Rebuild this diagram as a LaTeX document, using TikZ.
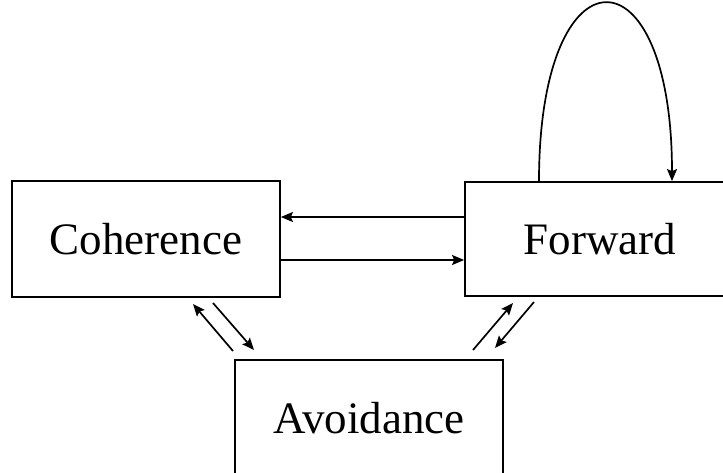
\documentclass[tikz,border=0pt]{standalone}
\usepackage{fontspec}
\setmainfont{Liberation Serif}
\usetikzlibrary{arrows.meta,calc}
\begin{document}
\begin{tikzpicture}[x=1pt,y=-1pt,
  stateblock/.style={draw,line width=1.8pt,minimum width=268pt,minimum height=116pt,
    inner sep=0pt,font=\fontsize{45}{54}\selectfont},
  flow/.style={line width=1.7pt,-{Stealth[length=12pt,width=10pt,inset=2pt]}}]
\useasboundingbox (0,0) rectangle (723,472);
\node[stateblock] (coh) at (146,239) {Coherence};
\node[stateblock,minimum width=270pt,minimum height=114pt] (fwd) at (600,239) {Forward};
\node[stateblock] (avo) at (369,418) {Avoidance};
% horizontal exchange between Coherence and Forward
\draw[flow] ([yshift=22pt]fwd.west) -- ([yshift=22pt]coh.east |- fwd.west);
\draw[flow] ([yshift=-21pt]coh.east) -- ([yshift=-21pt]fwd.west |- coh.east);
% self loop on Forward
\coordinate (loopA) at ($(fwd.north)+(-61,0)$);
\coordinate (loopB) at ($(fwd.north)+(72,0)$);
\draw[flow] (loopA) .. controls ($(loopA)+(0,-237)$) and ($(loopB)+(0,-237)$) .. (loopB);
% diagonal links Coherence <-> Avoidance
\coordinate (ca1) at (233,351); \coordinate (ca2) at (193,304);
\coordinate (ca3) at (213,303); \coordinate (ca4) at (254,350);
\draw[flow] (ca1) -- (ca2);
\draw[flow] (ca3) -- (ca4);
% diagonal links Avoidance <-> Forward
\coordinate (af1) at (473,350); \coordinate (af2) at (513,303);
\coordinate (af3) at (534,302); \coordinate (af4) at (495,348);
\draw[flow] (af1) -- (af2);
\draw[flow] (af3) -- (af4);
\end{tikzpicture}
\end{document}
